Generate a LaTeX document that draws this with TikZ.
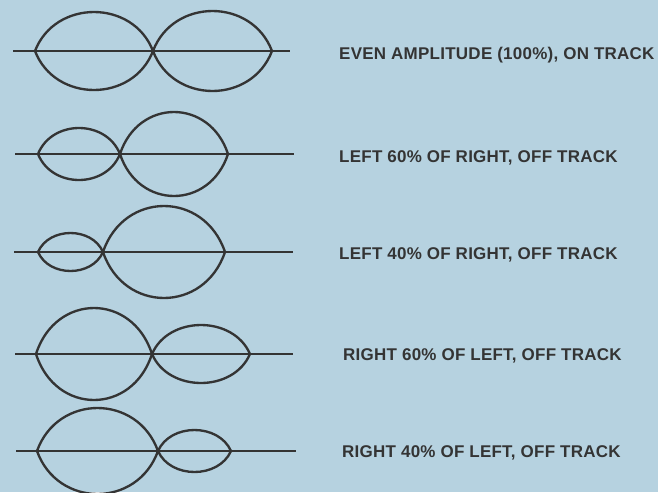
\documentclass[tikz,border=0pt]{standalone}
\usepackage{fontspec}
\newfontfamily\labelfont{Liberation Sans}[LetterSpace=1.5]
\usepackage{tikz}
\usetikzlibrary{calc}
\definecolor{paperblue}{RGB}{182,210,224}
\definecolor{inkgray}{RGB}{52,52,52}
\newcommand{\lobe}[3]{%
  \draw[lobeline] (#1)
    .. controls ($(#1)!0.17!(#2)+(0,#3*1.333)$) and ($(#2)!0.17!(#1)+(0,#3*1.333)$) .. (#2)
    .. controls ($(#2)!0.17!(#1)-(0,#3*1.333)$) and ($(#1)!0.17!(#2)-(0,#3*1.333)$) .. (#1) -- cycle;}

\begin{document}
\begin{tikzpicture}[x=0.03cm, y=-0.03cm,
  track/.style={draw=inkgray, line width=1.2pt},
  lobeline/.style={draw=inkgray, line width=2pt, line join=round},
  caption/.style={anchor=base west, inner sep=0pt, text=inkgray,
    font=\labelfont\bfseries\fontsize{14.5}{17}\selectfont}]
  \fill[paperblue] (0,0) rectangle (658,492);
  \useasboundingbox (0,0) rectangle (658,492);
  % even amplitude
  \coordinate (s1) at (13,51);  \coordinate (e1) at (290,51);
  \coordinate (a1) at (35,51);  \coordinate (m1) at (153,51); \coordinate (b1) at (272,51);
  \draw[track] (s1) -- (e1);
  \lobe{a1}{m1}{39}
  \lobe{m1}{b1}{40}
  \node[caption] (lbl1) at (339,59) {EVEN AMPLITUDE (100\%), ON TRACK};
  % left 60%
  \coordinate (s2) at (15,154); \coordinate (e2) at (294,154);
  \coordinate (a2) at (38,154); \coordinate (m2) at (120,154); \coordinate (b2) at (228,154);
  \draw[track] (s2) -- (e2);
  \lobe{a2}{m2}{26}
  \lobe{m2}{b2}{42}
  \node[caption] (lbl2) at (339,162) {LEFT 60\% OF RIGHT, OFF TRACK};
  % left 40%
  \coordinate (s3) at (14,252); \coordinate (e3) at (293,252);
  \coordinate (a3) at (38,252); \coordinate (m3) at (103,252); \coordinate (b3) at (225,252);
  \draw[track] (s3) -- (e3);
  \lobe{a3}{m3}{19}
  \lobe{m3}{b3}{46}
  \node[caption] (lbl3) at (339,259) {LEFT 40\% OF RIGHT, OFF TRACK};
  % right 60%
  \coordinate (s4) at (15,354); \coordinate (e4) at (293,354);
  \coordinate (a4) at (36,354); \coordinate (m4) at (152,354); \coordinate (b4) at (250,354);
  \draw[track] (s4) -- (e4);
  \lobe{a4}{m4}{46}
  \lobe{m4}{b4}{29}
  \node[caption] (lbl4) at (343,360) {RIGHT 60\% OF LEFT, OFF TRACK};
  % right 40%
  \coordinate (s5) at (16,451); \coordinate (e5) at (296,451);
  \coordinate (a5) at (37,451); \coordinate (m5) at (158,451); \coordinate (b5) at (231,451);
  \draw[track] (s5) -- (e5);
  \lobe{a5}{m5}{43}
  \lobe{m5}{b5}{21}
  \node[caption] (lbl5) at (342,457) {RIGHT 40\% OF LEFT, OFF TRACK};
\end{tikzpicture}
\end{document}
